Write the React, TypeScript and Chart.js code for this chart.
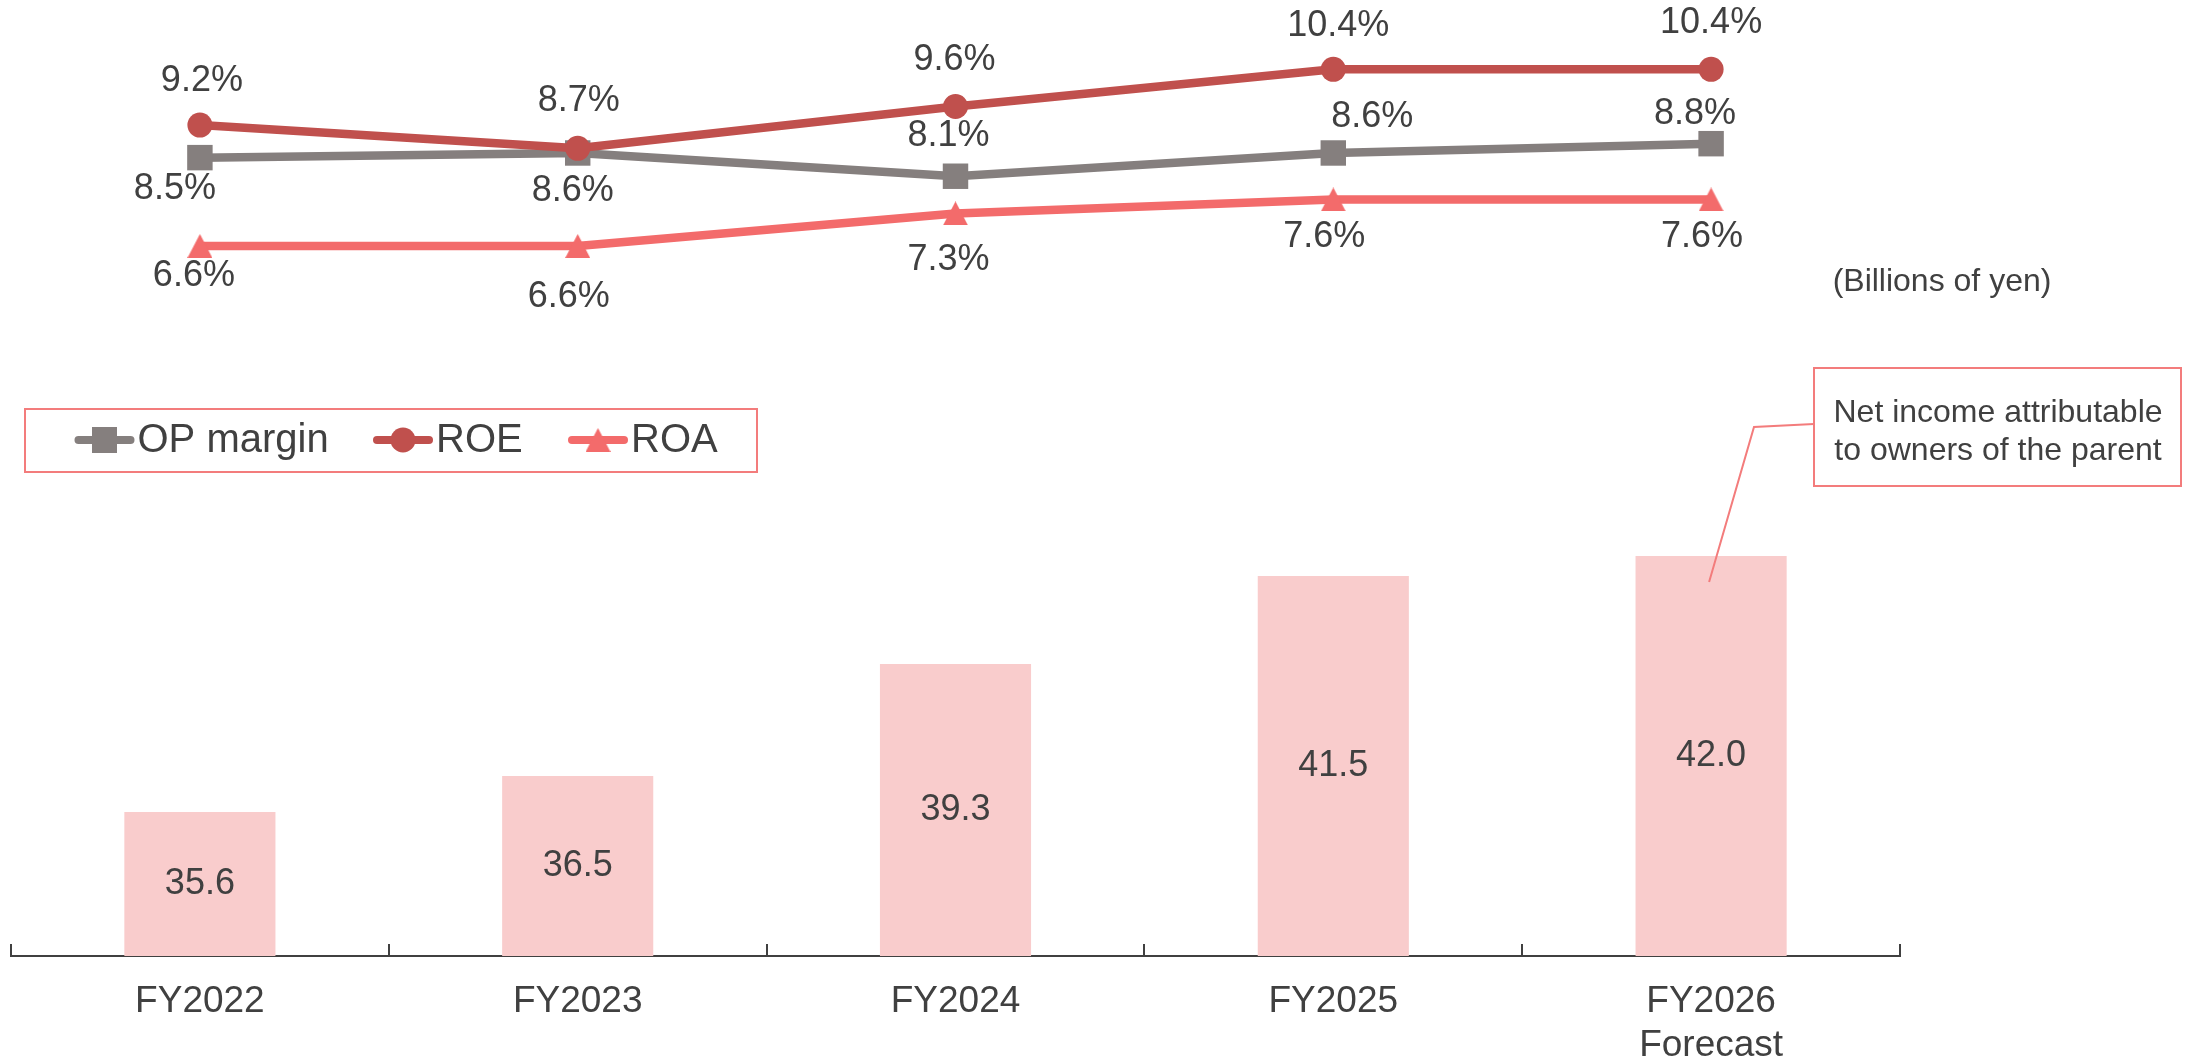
import React, { useEffect, useRef } from 'react';
import { Chart, registerables } from 'chart.js';

Chart.register(...registerables);

const FONT = '"Liberation Sans", Arial, Helvetica, sans-serif';
const TEXT = '#404040';

// ---- data ----
const categories: string[][] = [['FY2022'], ['FY2023'], ['FY2024'], ['FY2025'], ['FY2026', 'Forecast']];
const netIncome = [35.6, 36.5, 39.3, 41.5, 42.0];
const opMargin = [8.5, 8.6, 8.1, 8.6, 8.8];
const roe = [9.2, 8.7, 9.6, 10.4, 10.4];
const roa = [6.6, 6.6, 7.3, 7.6, 7.6];
const seriesNames = ['OP margin', 'ROE', 'ROA'];
const barSeriesName = 'Net income attributable to owners of the parent';
const unitNote = '(Billions of yen)';
const calloutText = ['Net income attributable', 'to owners of the parent'];

// ---- layout / style (not data) ----
const COLORS = {
  op: '#857F7E',
  roe: '#C0504D',
  roa: '#F36B6B',
  bar: '#F9CCCC',
  frame: '#F37C7C',
  axis: '#404040',
};

const labelOffsets: Record<string, number[][]> = {
  op: [[-25, 31], [-5, 38], [-7, -40], [39, -36], [-16, -30]],
  roe: [[2, -44.5], [1, -47], [-1, -46], [5, -43], [0, -46]],
  roa: [[-6, 30], [-9, 51], [-7, 47], [-9, 38], [-9, 37.5]],
};

function makeTriangle(w: number, h: number, color: string): HTMLCanvasElement {
  const c = document.createElement('canvas');
  c.width = w;
  c.height = h;
  const g = c.getContext('2d')!;
  g.fillStyle = color;
  g.beginPath();
  g.moveTo(w / 2, 0);
  g.lineTo(w, h);
  g.lineTo(0, h);
  g.closePath();
  g.fill();
  return c;
}

export default function App() {
  const ref = useRef<HTMLCanvasElement>(null);

  useEffect(() => {
    const canvas = ref.current!;
    const tri = makeTriangle(25, 24, COLORS.roa);

    const overlay = {
      id: 'overlay',
      afterDraw(chart: any) {
        const ctx: CanvasRenderingContext2D = chart.ctx;
        const xs = chart.scales.x;
        const yBar = chart.scales.yBar;
        const yLine = chart.scales.yLine;
        const area = chart.chartArea;
        ctx.save();

        // tick marks (inside, upward)
        ctx.strokeStyle = COLORS.axis;
        ctx.lineWidth = 2;
        for (let i = 0; i <= categories.length; i++) {
          const px = Math.round(xs.getPixelForValue(i - 0.5));
          ctx.beginPath();
          ctx.moveTo(px, area.bottom);
          ctx.lineTo(px, area.bottom - 12);
          ctx.stroke();
        }

        // bar value labels
        ctx.fillStyle = TEXT;
        ctx.textAlign = 'center';
        ctx.textBaseline = 'middle';
        ctx.font = `36px ${FONT}`;
        const basePx = yBar.getPixelForValue(yBar.min);
        netIncome.forEach((v, i) => {
          const px = xs.getPixelForValue(i);
          const topPx = yBar.getPixelForValue(v);
          ctx.fillText(v.toFixed(1), px, (topPx + basePx) / 2);
        });

        // line value labels
        const series: [number[], string][] = [
          [opMargin, 'op'],
          [roe, 'roe'],
          [roa, 'roa'],
        ];
        series.forEach(([values, key]) => {
          values.forEach((v, i) => {
            const [dx, dy] = labelOffsets[key][i];
            ctx.fillText(v.toFixed(1) + '%', xs.getPixelForValue(i) + dx, yLine.getPixelForValue(v) + dy);
          });
        });

        // unit note
        ctx.font = `32px ${FONT}`;
        ctx.fillText(unitNote, 1942, 282);

        // legend
        ctx.strokeStyle = COLORS.frame;
        ctx.lineWidth = 2;
        ctx.strokeRect(25, 409, 732, 63);
        const legendY = 440;
        const items: [string, string, number][] = [
          [seriesNames[0], COLORS.op, 104.5],
          [seriesNames[1], COLORS.roe, 403],
          [seriesNames[2], COLORS.roa, 598],
        ];
        ctx.font = `40px ${FONT}`;
        ctx.textAlign = 'left';
        items.forEach(([name, color, cx], idx) => {
          ctx.strokeStyle = color;
          ctx.lineWidth = 8;
          ctx.lineCap = 'round';
          ctx.beginPath();
          ctx.moveTo(cx - 26, legendY);
          ctx.lineTo(cx + 26, legendY);
          ctx.stroke();
          ctx.fillStyle = color;
          if (idx === 0) {
            ctx.fillRect(cx - 12.5, legendY - 13, 25, 26);
          } else if (idx === 1) {
            ctx.beginPath();
            ctx.arc(cx, legendY, 12.5, 0, Math.PI * 2);
            ctx.fill();
          } else {
            ctx.drawImage(tri, cx - 12.5, legendY - 12);
          }
          ctx.fillStyle = TEXT;
          ctx.fillText(name, cx + 33, legendY + 1);
        });

        // callout
        ctx.strokeStyle = COLORS.frame;
        ctx.lineWidth = 2;
        ctx.lineCap = 'butt';
        ctx.strokeRect(1814, 368, 367, 118);
        const lastIdx = netIncome.length - 1;
        ctx.beginPath();
        ctx.moveTo(1814, 424);
        ctx.lineTo(1754, 427);
        ctx.lineTo(xs.getPixelForValue(lastIdx) - 2, yBar.getPixelForValue(netIncome[lastIdx]) + 26);
        ctx.stroke();
        ctx.fillStyle = TEXT;
        ctx.textAlign = 'center';
        ctx.font = `32px ${FONT}`;
        ctx.fillText(calloutText[0], 1998, 413);
        ctx.fillText(calloutText[1], 1998, 451);

        ctx.restore();
      },
    };

    const chart = new Chart(canvas, {
      type: 'bar',
      data: {
        labels: categories,
        datasets: [
          {
            type: 'bar',
            label: barSeriesName,
            data: netIncome,
            yAxisID: 'yBar',
            backgroundColor: COLORS.bar,
            barPercentage: 0.4,
            categoryPercentage: 1,
            order: 10,
          } as any,
          {
            type: 'line',
            label: seriesNames[0],
            data: opMargin,
            yAxisID: 'yLine',
            borderColor: COLORS.op,
            backgroundColor: COLORS.op,
            borderWidth: 8.5,
            borderJoinStyle: 'round',
            pointStyle: 'rect',
            pointRadius: 18,
            pointBorderWidth: 0,
            order: 3,
          } as any,
          {
            type: 'line',
            label: seriesNames[1],
            data: roe,
            yAxisID: 'yLine',
            borderColor: COLORS.roe,
            backgroundColor: COLORS.roe,
            borderWidth: 8.5,
            borderJoinStyle: 'round',
            pointStyle: 'circle',
            pointRadius: 12.5,
            pointBorderWidth: 0,
            order: 2,
          } as any,
          {
            type: 'line',
            label: seriesNames[2],
            data: roa,
            yAxisID: 'yLine',
            borderColor: COLORS.roa,
            backgroundColor: COLORS.roa,
            borderWidth: 8.5,
            borderJoinStyle: 'round',
            pointStyle: tri,
            pointRadius: 13,
            pointBorderWidth: 0,
            order: 1,
          } as any,
        ],
      },
      options: {
        responsive: false,
        animation: false,
        devicePixelRatio: 1,
        layout: { autoPadding: false, padding: { left: 11, right: 295, top: 20, bottom: 0 } },
        plugins: {
          legend: { display: false },
          tooltip: { enabled: false },
        },
        scales: {
          x: {
            offset: true,
            grid: { display: false, drawTicks: false },
            border: { display: true, color: COLORS.axis, width: 2 },
            ticks: {
              color: TEXT,
              font: { family: FONT, size: 37, lineHeight: 1.19 },
              padding: 24,
              maxRotation: 0,
              autoSkip: false,
            },
            afterFit: (s: any) => {
              s.height = 104;
            },
          },
          yBar: {
            type: 'linear',
            display: false,
            min: 32,
            max: 55.4,
          },
          yLine: {
            type: 'linear',
            display: false,
            min: -8.67,
            max: 11.46,
          },
        },
      } as any,
      plugins: [overlay],
    });

    return () => chart.destroy();
  }, []);

  return (
    <div style={{ position: 'fixed', left: 0, top: 0, width: 2195, height: 1060, background: '#ffffff' }}>
      <canvas ref={ref} width={2195} height={1060} style={{ display: 'block', width: 2195, height: 1060 }} />
    </div>
  );
}
